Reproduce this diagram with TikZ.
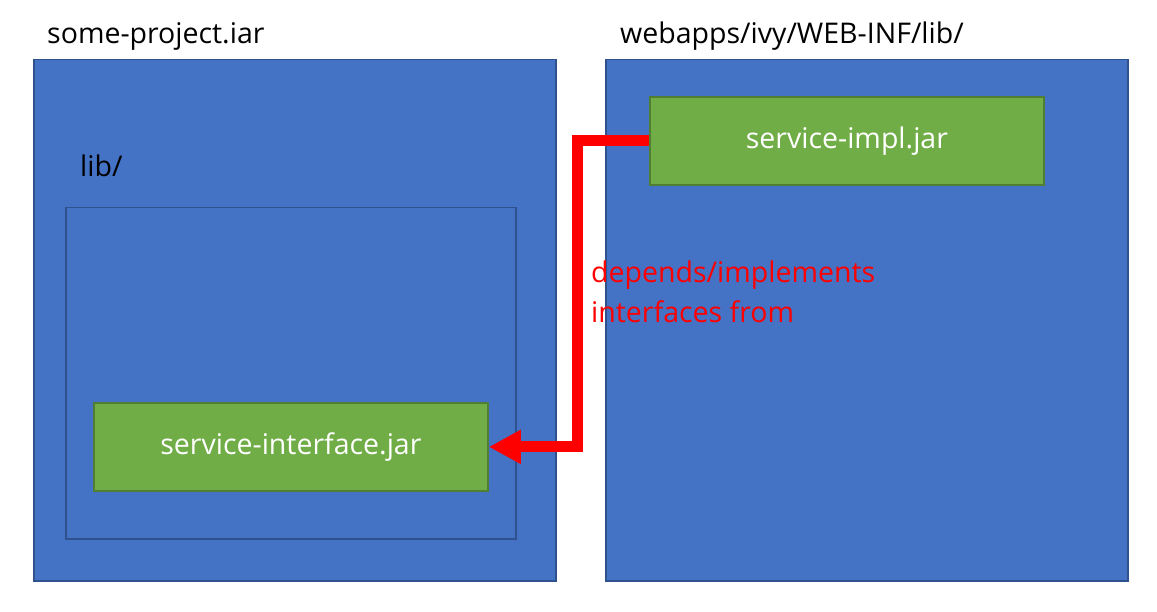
\documentclass[tikz,border=0pt]{standalone}
\usepackage{fontspec}
\setmainfont{Open Sans}
\usetikzlibrary{arrows.meta}
\definecolor{boxblue}{HTML}{4472C4}
\definecolor{boxblueline}{HTML}{2F528F}
\definecolor{jargreen}{HTML}{70AD47}
\definecolor{jargreenline}{HTML}{507E32}
\begin{document}
\begin{tikzpicture}[x=1pt,y=-1pt,
  container/.style={draw=boxblueline, fill=boxblue, line width=1.5pt},
  jarbox/.style={draw=jargreenline, fill=jargreen, line width=1.8pt, text=white, font=\fontsize{28.5}{32}\selectfont, inner sep=0pt},
  title/.style={anchor=base west, inner sep=0pt, font=\fontsize{28.5}{32}\selectfont, text=black},
  deplabel/.style={anchor=base west, inner sep=0pt, align=left, font=\fontsize{28.5}{40}\selectfont, text=red},
  deparrow/.style={draw=red, line width=11pt, line join=miter, miter limit=10, -{Triangle[length=32pt,width=32pt]}}]
\useasboundingbox (0,0) rectangle (1157,612);
\fill[white] (0,0) rectangle (1157,612);
% containers
\node[container, minimum width=522pt, minimum height=521pt, anchor=north west, inner sep=0pt] (proj) at (33,59) {};
\node[container, minimum width=450pt, minimum height=331pt, anchor=north west, inner sep=0pt] (lib) at (65,207) {};
\node[container, minimum width=522pt, minimum height=521pt, anchor=north west, inner sep=0pt] (webapps) at (605,59) {};
% titles
\node[title] (projtitle) at (47,44) {some-project.iar};
\node[title] (libtitle) at (80,177) {lib/};
\node[title] (webtitle) at (620,44) {webapps/ivy/WEB-INF/lib/};
% jars
\node[jarbox, minimum width=394pt, minimum height=88pt, anchor=north west] (impl) at (649,96) {service-impl.jar};
\node[jarbox, minimum width=394pt, minimum height=88pt, anchor=north west] (iface) at (93,402) {service-interface.jar};
% arrow
\coordinate (bend) at (577,140);
\draw[deparrow] (impl.west) -| (bend |- iface.east) -- (iface.east);
% label
\node[deplabel] (dep) at (591,323) {depends/implements\\interfaces from};
\end{tikzpicture}
\end{document}
